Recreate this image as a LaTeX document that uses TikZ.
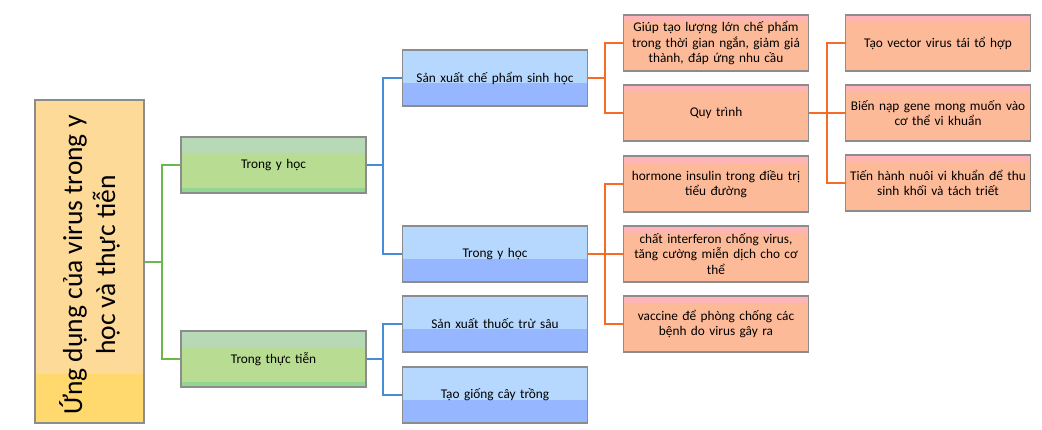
\documentclass[tikz,border=0pt]{standalone}
\usepackage{fontspec}
\setmainfont{Carlito}
\definecolor{rootmain}{RGB}{254,218,153}
\definecolor{rootband}{RGB}{255,217,110}
\definecolor{grmain}{RGB}{184,221,146}
\definecolor{grtop}{RGB}{184,217,182}
\definecolor{grbot}{RGB}{146,214,146}
\definecolor{bltop}{RGB}{182,216,255}
\definecolor{blbot}{RGB}{150,182,255}
\definecolor{ormain}{RGB}{253,186,152}
\definecolor{ortop}{RGB}{255,180,182}
\definecolor{boxgray}{RGB}{140,140,140}
\definecolor{gline}{RGB}{106,184,72}
\definecolor{bline}{RGB}{70,140,215}
\definecolor{oline}{RGB}{245,108,38}
\tikzset{
  base/.style={draw=boxgray, line width=1.4pt, minimum width=185pt, minimum height=56pt,
    text width=180pt, align=center, inner sep=0pt,
    font=\fontsize{13.3}{15.5}\selectfont},
  greenbox/.style={base, fill=grmain, path picture={
      \fill[grtop] (path picture bounding box.north west) rectangle ([yshift=-16pt]path picture bounding box.north east);
      \fill[grbot] (path picture bounding box.south west) rectangle ([yshift=4.5pt]path picture bounding box.south east);}},
  bluebox/.style={base, fill=bltop, path picture={
      \fill[blbot] (path picture bounding box.south west) rectangle ([yshift=23pt]path picture bounding box.south east);}},
  orangebox/.style={base, fill=ormain, path picture={
      \fill[ortop] (path picture bounding box.north west) rectangle ([yshift=-7pt]path picture bounding box.north east);}},
  gconn/.style={draw=gline, line width=2pt},
  bconn/.style={draw=bline, line width=2pt},
  oconn/.style={draw=oline, line width=2pt},
}
\begin{document}
\begin{tikzpicture}[x=1pt,y=-1pt]
\useasboundingbox (0,0) rectangle (1042,430);
% root
\node[draw=boxgray, line width=1.4pt, fill=rootmain, minimum width=109pt, minimum height=323pt, inner sep=0pt,
  path picture={\fill[rootband] (path picture bounding box.south west) rectangle ([yshift=49pt]path picture bounding box.south east);}]
  (root) at (89.5,261.5) {};
\node[rotate=90, align=center, font=\fontsize{27.5}{33}\selectfont, inner sep=0pt] (roottext) at (89.5,265) {Ứng dụng của virus trong y\\học và thực tiễn};
% level 1
\node[greenbox] (g1) at (273.5,165) {Trong y học};
\node[greenbox] (g2) at (273.5,359) {Trong thực tiễn};
% level 2
\node[bluebox] (b1) at (495,78) {Sản xuất chế phẩm sinh học};
\node[bluebox] (b2) at (495,254) {Trong y học};
\node[bluebox] (b3) at (495,324) {Sản xuất thuốc trừ sâu};
\node[bluebox] (b4) at (495,395) {Tạo giống cây trồng};
% level 3
\node[orangebox] (o1) at (716,43) {Giúp tạo lượng lớn chế phẩm\\trong thời gian ngắn, giảm giá\\thành, đáp ứng nhu cầu};
\node[orangebox] (o2) at (716,113) {Quy trình};
\node[orangebox] (o3) at (716,184) {hormone insulin trong điều trị\\tiểu đường};
\node[orangebox] (o4) at (716,254) {chất interferon chống virus,\\tăng cường miễn dịch cho cơ\\thể};
\node[orangebox] (o5) at (716,324) {vaccine để phòng chống các\\bệnh do virus gây ra};
% level 4
\node[orangebox] (p1) at (938,43) {Tạo vector virus tái tổ hợp};
\node[orangebox] (p2) at (938,113) {Biến nạp gene mong muốn vào\\cơ thể vi khuẩn};
\node[orangebox] (p3) at (938,183) {Tiến hành nuôi vi khuẩn để thu\\sinh khối và tách triết};
% junctions
\coordinate (jr) at (162,262);
\coordinate (j1) at (383,165);
\coordinate (j2) at (383,359);
\coordinate (j3) at (605,78);
\coordinate (j4) at (605,254);
\coordinate (j5) at (827,113);
% connectors
\draw[gconn] (g1.west) -| (jr) -- (root.east |- jr);
\draw[gconn] (g2.west) -| (jr);
\draw[bconn] (b1.west) -| (j1) -- (g1.east);
\draw[bconn] (b2.west) -| (j1);
\draw[bconn] (b3.west) -| (j2) -- (g2.east);
\draw[bconn] (b4.west) -| (j2);
\draw[oconn] (o1.west) -| (j3) -- (b1.east);
\draw[oconn] (o2.west) -| (j3);
\draw[oconn] (o3.west) -| (j4) -- (b2.east);
\draw[oconn] (o4.west) -| (j4);
\draw[oconn] (o5.west) -| (j4);
\draw[oconn] (p1.west) -| (j5) -- (o2.east);
\draw[oconn] (p2.west) -| (j5);
\draw[oconn] (p3.west) -| (j5);
\end{tikzpicture}
\end{document}
